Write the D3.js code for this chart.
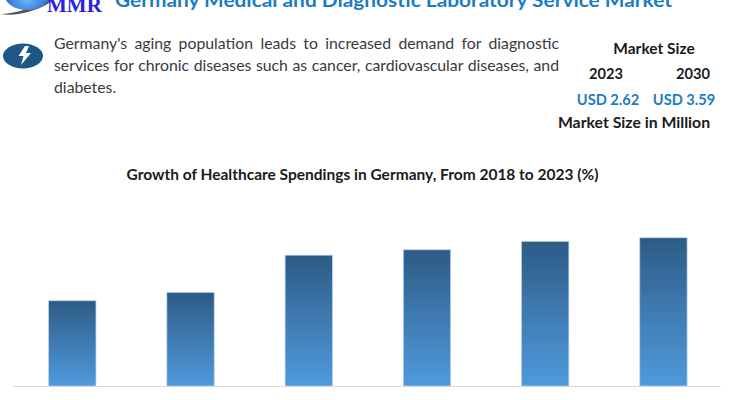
<!DOCTYPE html>
<html><head><meta charset="utf-8">
<script src="https://cdn.jsdelivr.net/npm/d3@7/dist/d3.min.js"></script>
<style>html,body{margin:0;padding:0;background:#fff}svg{display:block}text{font-family:Lato,"Open Sans",sans-serif}</style>
</head><body><div id="c"></div>
<script>
const years = ["2018","2019","2020","2021","2022","2023"];
const spending = [7.1, 7.8, 10.9, 11.35, 12.05, 12.35];
const pageTitle = "Germany Medical and Diagnostic Laboratory Service Market";
const chartTitle = "Growth of Healthcare Spendings in Germany, From 2018 to 2023 (%)";
const bodyLines = ["Germany's aging population leads to increased demand for diagnostic",
  "services for chronic diseases such as cancer, cardiovascular diseases, and", "diabetes."];
const W = 735, H = 400;
const svg = d3.select("#c").append("svg").attr("width", W).attr("height", H);
const defs = svg.append("defs");
const g = defs.append("linearGradient").attr("id","bar").attr("x1",0).attr("x2",0).attr("y1",0).attr("y2",1);
g.append("stop").attr("offset","0%").attr("stop-color","#2c5b85");
g.append("stop").attr("offset","50%").attr("stop-color","#3f7bb2");
g.append("stop").attr("offset","100%").attr("stop-color","#4f9adc");
const lg = defs.append("radialGradient").attr("id","globe").attr("cx","0.5").attr("cy","0.7").attr("r","0.7");
lg.append("stop").attr("offset","0%").attr("stop-color","#6fb4f5");
lg.append("stop").attr("offset","100%").attr("stop-color","#0d55c8");

// Logo
svg.append("path").attr("d","M1 14 C12 14 30 9 47 0 L53 0 C40 11 14 17 1 14 Z").attr("fill","#555");
svg.append("ellipse").attr("cx",27).attr("cy",-6).attr("rx",23).attr("ry",16).attr("fill","url(#globe)");
svg.append("text").attr("x",47).attr("y",11.5).attr("font-size",21).attr("font-weight",700)
  .style("font-family","'Liberation Serif',serif").attr("fill","#2a22e0").text("MMR");

// Title
svg.append("text").attr("x",115).attr("y",7).attr("font-size",18.6).attr("font-weight",700)
  .attr("fill","#1b7cc4").attr("textLength",557).attr("lengthAdjust","spacingAndGlyphs").text(pageTitle);

// Icon
svg.append("ellipse").attr("cx",23).attr("cy",56).attr("rx",20).attr("ry",12.5).attr("fill","#1f5688");
svg.append("path").attr("d","M25 46 L29 46 L26 53 L31 53 L21 65 L23.5 56 L18.5 56 Z").attr("fill","#fff");

// Body text (first two lines justified)
const lineY = [49, 71, 93];
bodyLines.forEach((s,i)=>{
  const el = svg.append("text").attr("x",54).attr("y",lineY[i]).attr("font-size",15.8).attr("fill","#3a3a3a").text(s);
  if(i<2){
    const w = el.node().getComputedTextLength();
    const gaps = s.split(" ").length-1;
    el.style("word-spacing",((505-w)/gaps)+"px");
  }
});

// Market size block
const blk = [["Market Size",654,54,"#1a1a1a",15.5],["2023",606,79,"#1a1a1a",14.6],["2030",693,79,"#1a1a1a",14.6],
  ["USD 2.62",608,105,"#1b7cc4",14.6],["USD 3.59",684,105,"#1b7cc4",14.6],["Market Size in Million",634,128,"#1a1a1a",15.8]];
svg.selectAll("text.b").data(blk).join("text").attr("class","b")
  .attr("x",d=>d[1]).attr("y",d=>d[2]).attr("text-anchor","middle")
  .attr("font-size",d=>d[4]).attr("font-weight",700).attr("fill",d=>d[3]).text(d=>d[0]);

// Chart title
svg.append("text").attr("x",362.5).attr("y",180).attr("text-anchor","middle")
  .attr("font-size",15.5).attr("font-weight",700).attr("fill","#1a1a1a").text(chartTitle);

// Chart
const x = d3.scaleBand().domain(years).range([13,720]).paddingInner(0.6).paddingOuter(0.29).align(0.52);
const y = d3.scaleLinear().domain([0,15]).range([386,206]);
svg.selectAll("rect.bar").data(spending).join("rect").attr("class","bar")
  .attr("x",(d,i)=>x(years[i])).attr("width",x.bandwidth())
  .attr("y",d=>y(d)).attr("height",d=>y(0)-y(d))
  .attr("fill","url(#bar)").attr("stroke","#b5d0ea").attr("stroke-width",0.7);
const ax = svg.append("g").attr("transform","translate(0,386)")
  .call(d3.axisBottom(x).tickSize(0).tickFormat(""));
ax.select(".domain").attr("stroke","#d9d9d9").attr("stroke-width",1);
</script></body></html>
